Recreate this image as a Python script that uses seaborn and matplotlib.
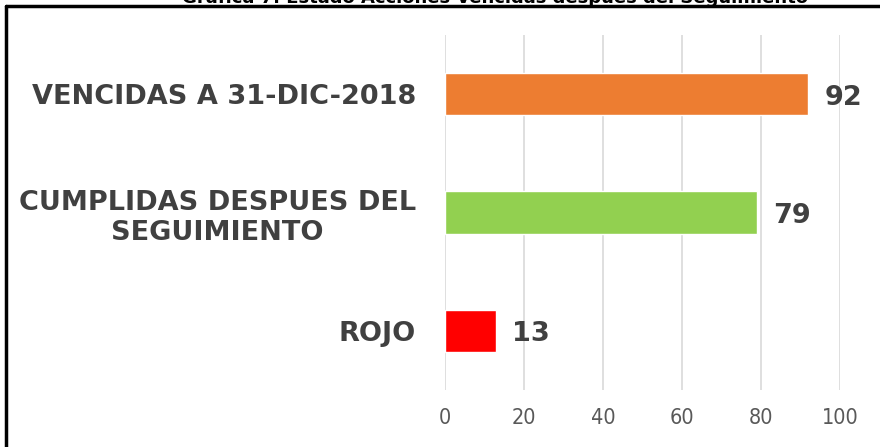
import seaborn as sns
import matplotlib.pyplot as plt
import pandas as pd
from matplotlib.lines import Line2D

categorias = ["VENCIDAS A 31-DIC-2018", "CUMPLIDAS DESPUES DEL\nSEGUIMIENTO", "ROJO"]
valores = [92, 79, 13]
colores = ["#ED7D31", "#92D050", "#FF0000"]
ticks_x = [0, 20, 40, 60, 80, 100]
titulo = "Gráfica 7. Estado Acciones Vencidas después del Seguimiento"

sns.set_theme(style="white")
plt.rcParams['font.family'] = ['DejaVu Sans']

df = pd.DataFrame({"cat": categorias, "val": valores})

fig = plt.figure(figsize=(8.8, 4.47), dpi=100)
ax = fig.add_axes([445/880, 1 - 390/447, 395/880, 355/447])

sns.barplot(data=df, x="val", y="cat", hue="cat", palette=colores, legend=False,
            width=0.36, ax=ax, saturation=1, zorder=3)

ax.set_xlim(0, 100)
ax.set_xticks(ticks_x)
ax.grid(axis="x", color="#d9d9d9", linewidth=1.2, zorder=0)
ax.grid(axis="y", visible=False)
for s in ax.spines.values():
    s.set_visible(False)
ax.set_xlabel("")
ax.set_ylabel("")
ax.tick_params(axis="both", length=0)
ax.tick_params(axis="x", pad=13)
ax.tick_params(axis="y", pad=21)

for lab in ax.get_xticklabels():
    lab.set_fontstretch("condensed")
    lab.set_fontsize(15.5)
    lab.set_color("#595959")
for lab in ax.get_yticklabels():
    lab.set_fontweight("bold")
    lab.set_fontsize(19.5)
    lab.set_color("#404040")
    lab.set_multialignment("center")

for i, v in enumerate(valores):
    ax.text(v + 4, i + 0.03, str(v), va="center", ha="left", fontsize=19.5,
            fontweight="bold", color="#404040")

# marco y titulo recortado
fig.add_artist(Line2D([6/880, 6/880], [0, 1 - 6/447], transform=fig.transFigure,
                      color="black", linewidth=2.5))
fig.add_artist(Line2D([6/880, 1], [1 - 6/447, 1 - 6/447], transform=fig.transFigure,
                      color="black", linewidth=2.5))
fig.text(495/880, 1 - 3/447, titulo, ha="center", va="baseline", fontsize=13,
         fontweight="bold", color="black")

fig.savefig("out.png", dpi=100)
